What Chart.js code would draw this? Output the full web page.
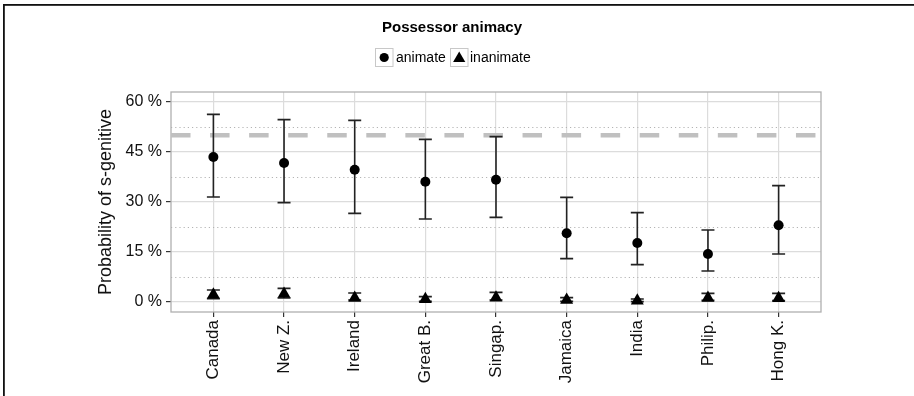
<!DOCTYPE html>
<html>
<head>
<meta charset="utf-8">
<script src="https://cdn.jsdelivr.net/npm/chart.js@4/dist/chart.umd.min.js"></script>
<style>
html, body { margin: 0; padding: 0; background: #fff; }
#wrap { position: relative; width: 914px; height: 396px; }
</style>
</head>
<body>
<div id="wrap"><canvas id="c" width="914" height="396"></canvas></div>
<script>
// values (percent)
var countries = ["Canada", "New Z.", "Ireland", "Great B.", "Singap.", "Jamaica", "India", "Philip.", "Hong K."];
var animateMean = [43.5, 41.7, 39.7, 36.1, 36.7, 20.6, 17.7, 14.4, 23.0];
var animateLow = [31.5, 29.8, 26.6, 24.9, 25.4, 13.0, 11.2, 9.3, 14.4];
var animateHigh = [56.3, 54.7, 54.5, 48.8, 49.6, 31.4, 26.8, 21.6, 34.9];
var inanimateMean = [2.2, 2.4, 1.2, 0.8, 1.3, 0.6, 0.4, 1.2, 1.1];
var inanimateLow = [1.0, 1.2, 0.6, 0.2, 0.6, 0.2, 0.1, 0.5, 0.4];
var inanimateHigh = [3.6, 4.1, 2.7, 1.6, 2.9, 1.3, 0.9, 2.6, 2.6];
var yTicks = [0, 15, 30, 45, 60];
var yMinorTicks = [7.5, 22.5, 37.5, 52.5];
var refLevel = 50;

var FONT = "'Liberation Sans', Arial, Helvetica, sans-serif";

function points(arr) {
    return arr.map(function(v, i) { return { x: i, y: v }; });
}

var errBars = [
    { mean: animateMean, low: animateLow, high: animateHigh },
    { mean: inanimateMean, low: inanimateLow, high: inanimateHigh }
];

var decor = {
    id: "decor",
    beforeDatasetsDraw: function(chart) {
        var ctx = chart.ctx, a = chart.chartArea, y = chart.scales.y;
        ctx.save();
        // dotted minor grid
        ctx.strokeStyle = "#b4b4b4";
        ctx.lineWidth = 1;
        ctx.setLineDash([1.2, 3]);
        yMinorTicks.forEach(function(v) {
            var py = Math.round(y.getPixelForValue(v)) + 0.5;
            ctx.beginPath();
            ctx.moveTo(a.left, py);
            ctx.lineTo(a.right, py);
            ctx.stroke();
        });
        ctx.setLineDash([]);
        // panel border
        ctx.strokeStyle = "#b0b0b0";
        ctx.lineWidth = 1.3;
        ctx.strokeRect(a.left, a.top, a.right - a.left, a.bottom - a.top);
        ctx.restore();
    },
    afterDatasetDraw: function(chart, args) {
        if (args.index !== 2) return;
        var ctx = chart.ctx, x = chart.scales.x, y = chart.scales.y;
        ctx.save();
        ctx.strokeStyle = "#222";
        ctx.lineWidth = 1.6;
        errBars.forEach(function(s) {
            s.mean.forEach(function(m, i) {
                var px = x.getPixelForValue(i);
                var lo = y.getPixelForValue(s.low[i]);
                var hi = y.getPixelForValue(s.high[i]);
                ctx.beginPath();
                ctx.moveTo(px, lo); ctx.lineTo(px, hi);
                ctx.moveTo(px - 6.5, lo); ctx.lineTo(px + 6.5, lo);
                ctx.moveTo(px - 6.5, hi); ctx.lineTo(px + 6.5, hi);
                ctx.stroke();
            });
        });
        ctx.restore();
    },
    afterDraw: function(chart) {
        var ctx = chart.ctx;
        ctx.save();
        // frame of the figure
        ctx.fillStyle = "#111";
        ctx.fillRect(3, 4, 911, 1.8);
        ctx.fillRect(3, 4, 1.8, 392);
        // title
        ctx.fillStyle = "#000";
        ctx.font = "bold 15px " + FONT;
        ctx.textAlign = "center";
        ctx.textBaseline = "alphabetic";
        ctx.fillText("Possessor animacy", 452, 31.5);
        // legend
        ctx.strokeStyle = "#c8c8c8";
        ctx.lineWidth = 1;
        ctx.strokeRect(375.5, 48.5, 17.5, 18);
        ctx.strokeRect(450.5, 48.5, 17.5, 18);
        ctx.fillStyle = "#000";
        ctx.beginPath();
        ctx.arc(384.2, 57.5, 4.6, 0, Math.PI * 2);
        ctx.fill();
        ctx.beginPath();
        ctx.moveTo(459.2, 51.5);
        ctx.lineTo(465.3, 62);
        ctx.lineTo(453.1, 62);
        ctx.closePath();
        ctx.fill();
        ctx.font = "14px " + FONT;
        ctx.textAlign = "left";
        ctx.textBaseline = "middle";
        ctx.fillText("animate", 396, 58);
        ctx.fillText("inanimate", 470, 58);
        ctx.restore();
    }
};

new Chart(document.getElementById("c"), {
    type: "scatter",
    data: {
        datasets: [{
            label: "animate",
            data: points(animateMean),
            pointStyle: "circle",
            pointRadius: 5,
            pointBackgroundColor: "#000",
            pointBorderWidth: 0,
            order: 1
        }, {
            label: "inanimate",
            data: points(inanimateMean),
            pointStyle: "triangle",
            pointRadius: 7.5,
            pointBackgroundColor: "#000",
            pointBorderWidth: 0,
            order: 2
        }, {
            label: "ref",
            data: [{ x: -0.6, y: refLevel }, { x: countries.length - 0.4, y: refLevel }],
            showLine: true,
            borderColor: "#c0c0c0",
            borderWidth: 4.5,
            borderDash: [19.5, 19.56],
            pointRadius: 0,
            order: 10
        }]
    },
    options: {
        responsive: false,
        devicePixelRatio: 1,
        animation: false,
        layout: { padding: { left: 95, right: 93, top: 92, bottom: 0 } },
        plugins: { legend: { display: false }, tooltip: { enabled: false } },
        scales: {
            x: {
                type: "linear",
                min: -0.6,
                max: countries.length - 0.4,
                afterBuildTicks: function(s) {
                    s.ticks = countries.map(function(c, i) { return { value: i }; });
                },
                afterFit: function(s) { s.height = 84; },
                grid: { color: "#dcdcdc", lineWidth: 1.2, tickLength: 5, tickColor: "#333", tickWidth: 1.2 },
                border: { display: false },
                ticks: {
                    autoSkip: false,
                    minRotation: 90,
                    maxRotation: 90,
                    padding: 3,
                    color: "#111",
                    font: { family: FONT, size: 17 },
                    callback: function(v) { return countries[v]; }
                }
            },
            y: {
                min: -3,
                max: 63,
                afterBuildTicks: function(s) {
                    s.ticks = yTicks.map(function(v) { return { value: v }; });
                },
                afterFit: function(s) { s.width = 76; },
                grid: { color: "#dcdcdc", lineWidth: 1.2, tickLength: 5, tickColor: "#333", tickWidth: 1.2 },
                border: { display: false },
                title: {
                    display: true,
                    text: "Probability of s-genitive",
                    color: "#111",
                    padding: { top: 0, bottom: 0 },
                    font: { family: FONT, size: 18, weight: "normal" }
                },
                ticks: {
                    padding: 4,
                    color: "#111",
                    font: { family: FONT, size: 16 },
                    callback: function(v) { return v + " %"; }
                }
            }
        }
    },
    plugins: [decor]
});
</script>
</body>
</html>
